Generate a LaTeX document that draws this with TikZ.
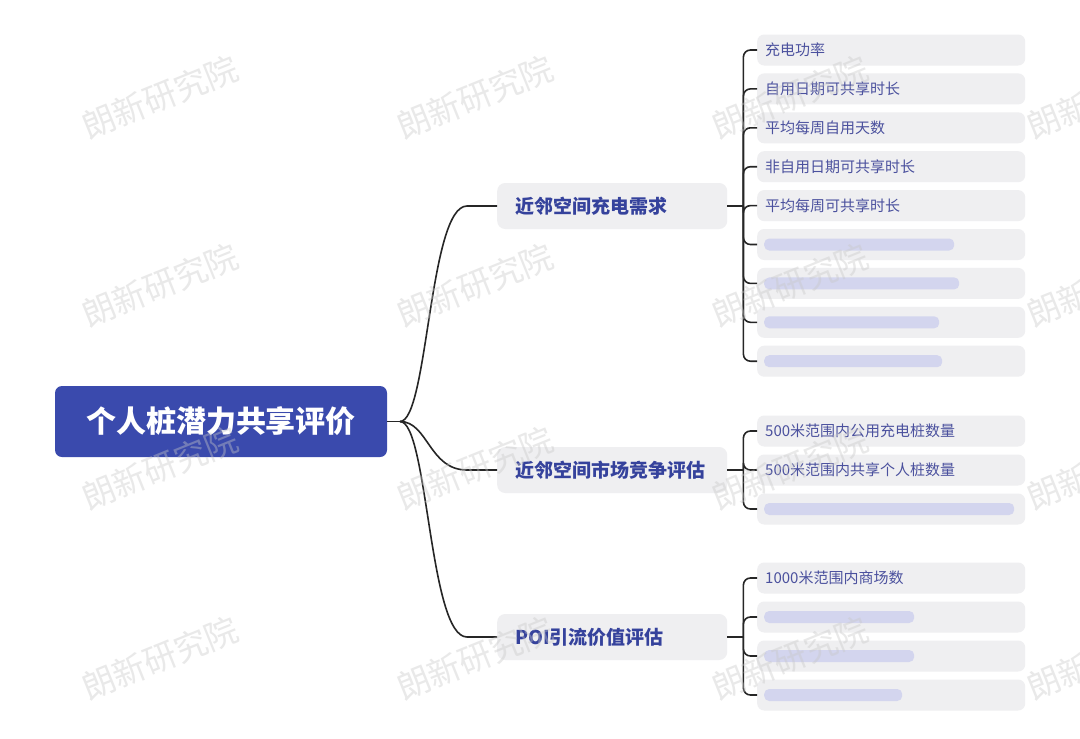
\documentclass[tikz,border=0pt]{standalone}
\usepackage{fontspec}
\setmainfont{Noto Sans CJK SC}
\usetikzlibrary{calc}
\definecolor{rootblue}{HTML}{3A4AAD}
\definecolor{branchtxt}{HTML}{35429C}
\definecolor{leaftxt}{HTML}{4B519E}
\definecolor{boxgray}{HTML}{EFEFF1}
\definecolor{blurtxt}{HTML}{D3D5EE}
\definecolor{markgray}{HTML}{C8C8C8}
\begin{document}
\begin{tikzpicture}[x = 1pt, y = -1pt,
	rootbox/.style = {fill = rootblue, text = white, rounded corners = 7pt, minimum width = 332pt, minimum height = 71pt, font = \fontsize{30}{30}\selectfont\bfseries},
	branchbox/.style = {fill = boxgray, text = branchtxt, rounded corners = 8pt, anchor = west, text width = 194pt, inner xsep = 18pt, minimum height = 46pt, align = left, font = \fontsize{19}{19}\selectfont\bfseries},
	leafbox/.style = {fill = boxgray, text = leaftxt, rounded corners = 7pt, anchor = west, text width = 252pt, inner xsep = 8pt, minimum height = 31pt, align = left, font = \fontsize{15}{15}\selectfont},
	blur/.style = {path picture = {\fill[blurtxt, rounded corners = 5pt] ([xshift = 7pt, yshift = -6pt]path picture bounding box.west) rectangle ++(#1,-12);}},
	wire/.style = {line width = 1.6pt, black!85},
	wmark/.style = {text = markgray, opacity = .4, rotate = 22, font = \fontsize{33}{33}\selectfont}]
	\useasboundingbox[fill = white] (0,0) rectangle (1080,739);
	\node[rootbox] (root) at (221,421.5) {个人桩潜力共享评价};
	\node[branchbox] (need) at (497,206) {近邻空间充电需求};
	\node[branchbox] (comp) at (497,470) {近邻空间市场竞争评估};
	\node[branchbox] (poi) at (497,637) {POI引流价值评估};
	\coordinate (hub) at (400,421.5);
	\draw[wire] (root.east) -- (hub);
	\foreach \b in {need, comp, poi}
		\draw[wire] (hub) .. controls +(28,0) and +(-38,0) .. ($(\b.west)+(-30,0)$) -- (\b.west);
	% leaves of each branch
	\foreach \b in {need, comp, poi}
		\draw[wire] (\b.east) -- ++(16,0) coordinate (\b-j);
	\foreach \ly/\lt [count = \i] in {50/充电功率, 88.9/自用日期可共享时长, 127.8/平均每周自用天数, 166.7/非自用日期可共享时长, 205.6/平均每周可共享时长} {
		\node[leafbox] (need-\i) at (757,\ly) {\lt};
		\draw[wire, rounded corners = 7pt] (need-j) |- (need-\i.west);
	}
	\foreach \ly/\lw [count = \i from 6] in {244.5/190, 283.4/195, 322.3/175, 361.2/178} {
		\node[leafbox, blur = \lw] (need-\i) at (757,\ly) {};
		\draw[wire, rounded corners = 7pt] (need-j) |- (need-\i.west);
	}
	\node[leafbox] (comp-1) at (757,431) {500米范围内公用充电桩数量};
	\node[leafbox] (comp-2) at (757,470) {500米范围内共享个人桩数量};
	\node[leafbox, blur = 250] (comp-3) at (757,509) {};
	\foreach \i in {1,2,3}
		\draw[wire, rounded corners = 7pt] (comp-j) |- (comp-\i.west);
	\node[leafbox] (poi-1) at (757,578) {1000米范围内商场数};
	\foreach \ly/\lw [count = \i from 2] in {617/150, 656/150, 695/138}
		\node[leafbox, blur = \lw] (poi-\i) at (757,\ly) {};
	\foreach \i in {1,...,4}
		\draw[wire, rounded corners = 7pt] (poi-j) |- (poi-\i.west);
	% watermark
	\foreach \wx in {160,475,790,1105}
		\foreach \wy in {97,285,468,658}
			\node[wmark] (wm-\wx-\wy) at (\wx,\wy) {朗新研究院};
\end{tikzpicture}
\end{document}
